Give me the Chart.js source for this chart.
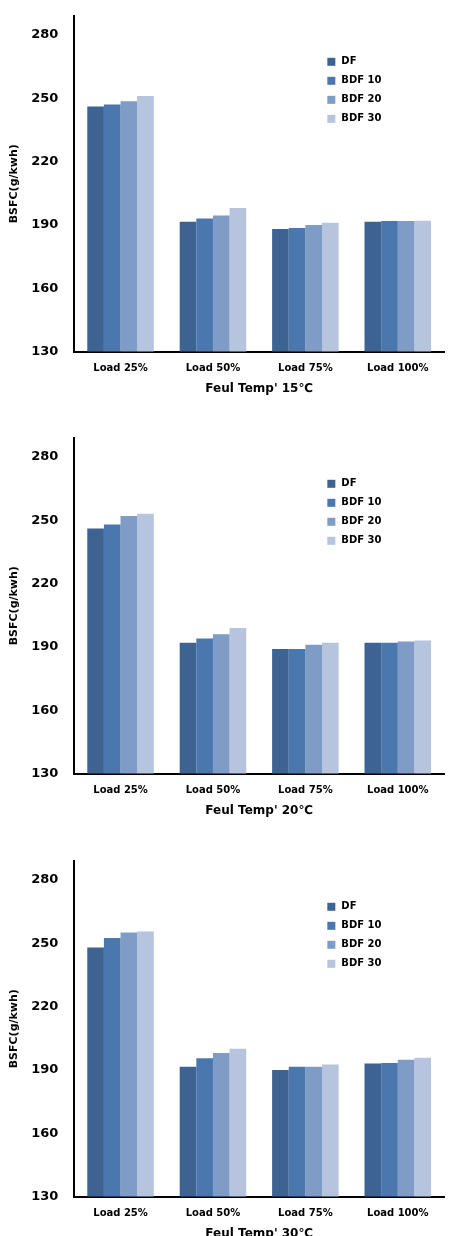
<!DOCTYPE html><html><head><script src="https://cdn.jsdelivr.net/npm/chart.js@4"></script>
<style>body{margin:0;background:#fff;width:452px;height:1236px;position:relative;overflow:hidden}div.c{position:absolute;left:0;width:452px;height:400px}</style></head><body>
<div class="c" style="top:0"><canvas id="c1"></canvas></div>
<div class="c" style="top:422px"><canvas id="c2"></canvas></div>
<div class="c" style="top:845px"><canvas id="c3"></canvas></div>
<script>
const categories=["Load 25%","Load 50%","Load 75%","Load 100%"];
const seriesNames=["DF","BDF 10","BDF 20","BDF 30"];
const colors=["#3d6392","#4a77ae","#7f9cc7","#b6c4de"];
const titles=["Feul Temp' 15\u2103","Feul Temp' 20\u2103","Feul Temp' 30\u2103"];
const t15_DF=[246,191.5,188,191.5], t15_BDF10=[247,193,188.5,191.8], t15_BDF20=[248.5,194.5,190,191.8], t15_BDF30=[251,198,191,192];
const t20_DF=[246,192,189,192], t20_BDF10=[248,194,189,192], t20_BDF20=[252,196,191,192.5], t20_BDF30=[253,199,192,193];
const t30_DF=[248,191.5,190,193], t30_BDF10=[252.5,195.5,191.5,193.2], t30_BDF20=[255,198,191.5,194.8], t30_BDF30=[255.5,200,192.5,195.8];
const sets=[[t15_DF,t15_BDF10,t15_BDF20,t15_BDF30],[t20_DF,t20_BDF10,t20_BDF20,t20_BDF30],[t30_DF,t30_BDF10,t30_BDF20,t30_BDF30]];
const F="'DejaVu Sans', Verdana, sans-serif";
const legendPlugin={id:'lg',afterDraw(ch){const c=ch.ctx,a=ch.chartArea;c.save();c.font="bold 10px "+F;c.textBaseline='middle';
 seriesNames.forEach((n,i)=>{const x=a.left+253,y=a.top+46+i*19;c.fillStyle=colors[i];c.fillRect(x,y-4,8,8);c.fillStyle='#000';c.fillText(n,x+14,y);});c.restore();}};
sets.forEach((s,k)=>{
new Chart(document.getElementById('c'+(k+1)),{type:'bar',
data:{labels:categories,datasets:s.map((d,i)=>({label:seriesNames[i],data:d,backgroundColor:colors[i],categoryPercentage:0.72,barPercentage:1}))},
options:{responsive:true,maintainAspectRatio:false,animation:false,
layout:{padding:{top:10,right:8,left:4}},
plugins:{legend:{display:false},tooltip:{enabled:false}},
scales:{
 x:{grid:{display:false},border:{color:'#000',width:2},ticks:{color:'#000',font:{family:F,weight:'bold',size:10}},
   title:{display:true,text:titles[k],color:'#000',font:{family:F,weight:'bold',size:12},padding:{top:4}}},
 y:{min:130,max:289,grid:{display:false},border:{color:'#000',width:2},
   afterBuildTicks(ax){ax.ticks=[130,160,190,220,250,280].map(v=>({value:v}));},
   ticks:{color:'#000',font:{family:F,weight:'bold',size:13},padding:8},
   title:{display:true,text:'BSFC(g/kwh)',color:'#000',font:{family:F,weight:'bold',size:11},padding:{bottom:2}}}}},
plugins:[legendPlugin]});
});
</script></body></html>
